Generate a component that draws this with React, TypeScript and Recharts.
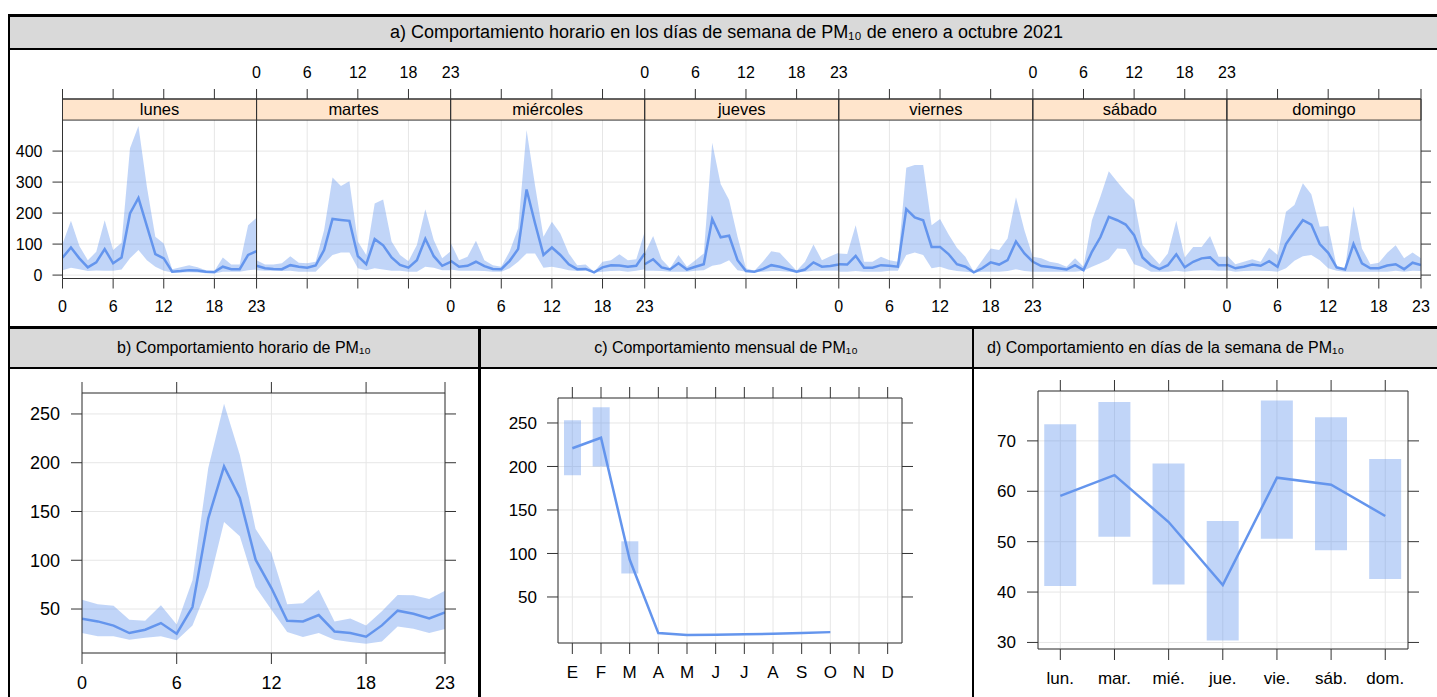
import React from "react";
import {
  ComposedChart,
  Line,
  Area,
  Bar,
  XAxis,
  YAxis,
  CartesianGrid,
  ReferenceArea,
  ReferenceLine,
} from "recharts";

const FONT = '"Liberation Sans", Arial, Helvetica, sans-serif';
const LINE = "#6495ED";
const GRID = "#e6e6e6";
const FRAME = "#333333";
const STRIP = "#ffe5cc";
const HEADER = "#d9d9d9";

const hours = [0, 1, 2, 3, 4, 5, 6, 7, 8, 9, 10, 11, 12, 13, 14, 15, 16, 17, 18, 19, 20, 21, 22, 23];
const days = ["lunes", "martes", "miércoles", "jueves", "viernes", "sábado", "domingo"];

// a) hourly profile per weekday
const lunesMean = [56, 89, 54, 25, 41, 84, 38, 57, 199, 249, 158, 68, 54, 11, 13, 16, 15, 11, 10, 27, 19, 19, 65, 77];
const lunesHigh = [100, 175, 94, 48, 75, 177, 81, 104, 409, 481, 285, 124, 102, 19, 25, 32, 25, 16, 13, 57, 34, 34, 161, 185];
const lunesLow = [16, 24, 19, 13, 15, 14, 14, 18, 54, 81, 48, 27, 14, 8, 8, 9, 8, 6, 5, 11, 11, 11, 16, 18];

const martesMean = [30, 22, 20, 19, 32, 27, 24, 31, 81, 181, 178, 175, 61, 35, 116, 96, 57, 33, 24, 48, 117, 61, 30, 43];
const martesHigh = [48, 34, 34, 38, 61, 40, 38, 43, 145, 315, 287, 303, 108, 65, 231, 244, 108, 65, 45, 97, 212, 113, 54, 77];
const martesLow = [16, 14, 14, 13, 14, 11, 11, 11, 38, 65, 73, 73, 22, 16, 22, 18, 14, 14, 11, 11, 27, 24, 16, 16];

const miercolesMean = [46, 27, 30, 43, 29, 20, 19, 46, 84, 276, 167, 65, 89, 65, 35, 19, 20, 9, 25, 32, 31, 27, 30, 70];
const miercolesHigh = [104, 48, 59, 111, 48, 32, 27, 77, 151, 468, 290, 124, 172, 134, 70, 32, 34, 11, 43, 48, 67, 48, 51, 140];
const miercolesLow = [18, 14, 14, 14, 13, 11, 11, 22, 43, 70, 70, 24, 27, 22, 16, 13, 14, 8, 11, 13, 14, 11, 14, 19];

const juevesMean = [35, 51, 25, 18, 38, 18, 27, 35, 181, 122, 127, 48, 13, 11, 19, 32, 27, 19, 11, 18, 41, 27, 29, 34];
const juevesHigh = [70, 126, 51, 22, 65, 27, 48, 70, 427, 294, 242, 124, 22, 14, 43, 77, 72, 43, 14, 43, 99, 48, 61, 72];
const juevesLow = [14, 14, 13, 11, 11, 11, 14, 16, 30, 35, 48, 16, 11, 9, 11, 13, 13, 11, 8, 11, 14, 14, 14, 14];

const viernesMean = [35, 34, 62, 24, 24, 32, 30, 27, 213, 186, 177, 91, 91, 68, 35, 27, 9, 22, 41, 34, 48, 108, 70, 43];
const viernesHigh = [70, 68, 161, 43, 43, 59, 48, 43, 346, 355, 355, 161, 181, 132, 88, 59, 11, 48, 86, 81, 118, 251, 145, 59];
const viernesLow = [11, 11, 13, 11, 11, 11, 14, 14, 65, 73, 65, 22, 27, 18, 13, 11, 8, 11, 11, 11, 13, 19, 13, 11];

const sabadoMean = [43, 29, 26, 22, 18, 32, 16, 75, 122, 188, 177, 163, 129, 57, 32, 19, 32, 67, 25, 43, 54, 57, 32, 32];
const sabadoHigh = [59, 54, 43, 38, 27, 54, 27, 177, 253, 335, 301, 269, 242, 97, 65, 35, 70, 175, 57, 91, 91, 126, 59, 59];
const sabadoLow = [11, 11, 11, 11, 11, 11, 14, 27, 38, 51, 86, 84, 35, 25, 11, 11, 11, 14, 11, 14, 16, 16, 14, 14];

const domingoMean = [34, 22, 27, 34, 30, 45, 27, 100, 140, 177, 163, 100, 72, 25, 18, 100, 38, 22, 22, 31, 35, 19, 40, 32];
const domingoHigh = [64, 35, 43, 51, 43, 88, 65, 204, 226, 296, 261, 156, 158, 29, 22, 222, 86, 35, 40, 72, 96, 54, 73, 54];
const domingoLow = [16, 11, 13, 14, 14, 13, 11, 22, 46, 61, 65, 48, 22, 14, 11, 11, 11, 11, 11, 11, 14, 11, 14, 13];

// b) hourly profile
const hourMean = [40.1, 37.3, 33, 25.4, 28.8, 35.6, 24.7, 52, 143, 196.3, 163.8, 100.6, 71.5, 38, 37.3, 43.8, 27, 25.4, 21.6, 33.2, 48.3, 45.2, 40.4, 46.6];
const hourHigh = [59.6, 55, 53.4, 39, 38, 53.8, 34, 79.4, 194.6, 260.6, 208, 132, 107.4, 55, 56, 69.8, 37.3, 40.4, 33, 47.6, 64.4, 64, 60.3, 68.8];
const hourLow = [25.4, 22, 22, 18.5, 20.6, 22, 17.9, 33.2, 73.2, 139.2, 124.5, 72.6, 49.3, 26.4, 21.3, 25.4, 18.5, 16.2, 14.4, 16.8, 32.2, 29.8, 25.4, 29.5];

// c) monthly profile (enero..octubre)
const monthLetters = ["E", "F", "M", "A", "M", "J", "J", "A", "S", "O", "N", "D"];
const monthMean = [221, 233, 93, 8.5, 6.3, 6.6, 7.1, 7.6, 8.5, 9.6];
const monthHigh = [253, 268, 114];
const monthLow = [190, 200, 77];

// d) weekday profile
const dayShort = ["lun.", "mar.", "mié.", "jue.", "vie.", "sáb.", "dom."];
const dayMean = [59.1, 63.2, 53.9, 41.4, 62.7, 61.3, 55.1];
const dayHigh = [73.3, 77.7, 65.5, 54.1, 78, 74.7, 66.4];
const dayLow = [41.2, 51, 41.5, 30.4, 50.6, 48.3, 42.6];

const SPAN = 23;
const weekMean = [lunesMean, martesMean, miercolesMean, juevesMean, viernesMean, sabadoMean, domingoMean];
const weekHigh = [lunesHigh, martesHigh, miercolesHigh, juevesHigh, viernesHigh, sabadoHigh, domingoHigh];
const weekLow = [lunesLow, martesLow, miercolesLow, juevesLow, viernesLow, sabadoLow, domingoLow];

// every day panel runs 0..23 and shares its edge with the next one
const weekRows = days.flatMap((_, k) =>
  hours.map((h, i) => ({
    x: k * SPAN + h,
    [`m${k}`]: weekMean[k][i],
    [`b${k}`]: [weekLow[k][i], weekHigh[k][i]],
  }))
);
const weekEnd = days.length * SPAN;
const weekTicks = days.flatMap((_, k) => [0, 6, 12, 18].map((h) => k * SPAN + h)).concat([weekEnd]);

// bottom axis labels the even panels, top axis the odd ones
const weekLabel = (parity: number) => (v: number) => {
  for (let k = parity; k < days.length; k += 2) {
    if (v >= k * SPAN && v <= k * SPAN + SPAN) return String(v - k * SPAN);
  }
  return "";
};

const hourRows = hours.map((h, i) => ({ h, mean: hourMean[i], band: [hourLow[i], hourHigh[i]] }));
const monthRows = monthLetters.map((_, i) => ({
  mo: i + 1,
  mean: monthMean[i] ?? null,
  band: monthLow[i] != null ? [monthLow[i], monthHigh[i]] : null,
}));
const dayRows = dayShort.map((_, i) => ({ d: i + 1, mean: dayMean[i], band: [dayLow[i], dayHigh[i]] }));

const noLabel = () => <g />;
const axisStyle = { stroke: FRAME };

function Box({ x, y, w, h, bg }: { x: number; y: number; w: number; h: number; bg: string }) {
  return <div style={{ position: "absolute", left: x, top: y, width: w, height: h, background: bg }} />;
}

function Header({ x, y, w, h, children, align = "center" }: any) {
  return (
    <div
      style={{
        position: "absolute",
        left: x,
        top: y,
        width: w,
        height: h,
        display: "flex",
        alignItems: "center",
        justifyContent: align,
        whiteSpace: "nowrap",
      }}
    >
      {children}
    </div>
  );
}

function WeekPanel() {
  const tick = { fontSize: 16, fill: "#000" };
  return (
    <div style={{ position: "absolute", left: 0, top: 50 }}>
      <ComposedChart width={1437} height={275} data={weekRows} margin={{ top: 0, right: 0, bottom: 0, left: 0 }}>
        <CartesianGrid stroke={GRID} />
        <XAxis
          dataKey="x"
          type="number"
          domain={[0, weekEnd]}
          allowDataOverflow
          ticks={weekTicks}
          interval={0}
          height={46.5}
          tickSize={10}
          tickMargin={12}
          tick={tick}
          tickFormatter={weekLabel(0)}
          axisLine={axisStyle}
          tickLine={axisStyle}
        />
        <XAxis
          xAxisId="T"
          orientation="top"
          dataKey="x"
          type="number"
          domain={[0, weekEnd]}
          allowDataOverflow
          ticks={weekTicks}
          interval={0}
          height={49}
          tickSize={10}
          tickMargin={11}
          tick={tick}
          tickFormatter={weekLabel(1)}
          axisLine={axisStyle}
          tickLine={axisStyle}
        />
        <YAxis
          type="number"
          domain={[-11, 568]}
          allowDataOverflow
          ticks={[0, 100, 200, 300, 400]}
          interval={0}
          width={62.5}
          tickSize={10}
          tickMargin={10}
          tick={tick}
          axisLine={axisStyle}
          tickLine={axisStyle}
        />
        <YAxis
          yAxisId="R"
          orientation="right"
          type="number"
          domain={[-11, 568]}
          allowDataOverflow
          ticks={[0, 100, 200, 300, 400]}
          interval={0}
          width={16}
          tickSize={10}
          tick={noLabel}
          axisLine={axisStyle}
          tickLine={axisStyle}
        />
        {days.map((d, k) => (
          <ReferenceArea
            key={`s${k}`}
            x1={k * SPAN}
            x2={k * SPAN + SPAN}
            y1={500}
            y2={568}
            fill={STRIP}
            fillOpacity={1}
            stroke={FRAME}
            strokeWidth={1}
            label={{ value: d, position: "center", fontSize: 16.5, fill: "#000" }}
          />
        ))}
        {days.map((_, k) => (
          <Area
            key={`a${k}`}
            dataKey={`b${k}`}
            stroke="none"
            fill={LINE}
            fillOpacity={0.4}
            isAnimationActive={false}
            activeDot={false}
          />
        ))}
        {days.map((_, k) => (
          <Line
            key={`l${k}`}
            dataKey={`m${k}`}
            stroke={LINE}
            strokeWidth={2.5}
            dot={false}
            activeDot={false}
            isAnimationActive={false}
          />
        ))}
        {[1, 2, 3, 4, 5, 6].map((k) => (
          <ReferenceLine key={`r${k}`} x={k * SPAN} stroke={FRAME} strokeWidth={1} />
        ))}
      </ComposedChart>
    </div>
  );
}

function HourPanel() {
  const tick = { fontSize: 18, fill: "#000" };
  const xt = [0, 6, 12, 18, 23];
  const yt = [50, 100, 150, 200, 250];
  return (
    <div style={{ position: "absolute", left: 8, top: 373.3 }}>
      <ComposedChart width={457} height={324} data={hourRows} margin={{ top: 0, right: 0, bottom: 0, left: 0 }}>
        <CartesianGrid stroke={GRID} />
        <XAxis dataKey="h" type="number" domain={[0, 23]} allowDataOverflow ticks={xt} interval={0} height={44} tickSize={11} tickMargin={12} tick={tick} axisLine={axisStyle} tickLine={axisStyle} />
        <XAxis xAxisId="T" orientation="top" dataKey="h" type="number" domain={[0, 23]} allowDataOverflow ticks={xt} interval={0} height={20} tickSize={11} tick={noLabel} axisLine={axisStyle} tickLine={axisStyle} />
        <YAxis type="number" domain={[4.9, 271.5]} allowDataOverflow ticks={yt} interval={0} width={74} tickSize={11} tickMargin={11} tick={tick} axisLine={axisStyle} tickLine={axisStyle} />
        <YAxis yAxisId="R" orientation="right" type="number" domain={[4.9, 271.5]} allowDataOverflow ticks={yt} interval={0} width={20} tickSize={11} tick={noLabel} axisLine={axisStyle} tickLine={axisStyle} />
        <Area dataKey="band" stroke="none" fill={LINE} fillOpacity={0.4} isAnimationActive={false} activeDot={false} />
        <Line dataKey="mean" stroke={LINE} strokeWidth={2.5} dot={false} activeDot={false} isAnimationActive={false} />
      </ComposedChart>
    </div>
  );
}

function MonthPanel() {
  const tick = { fontSize: 17, fill: "#000" };
  const xt = monthLetters.map((_, i) => i + 1);
  const yt = [50, 100, 150, 200, 250];
  return (
    <div style={{ position: "absolute", left: 488.3, top: 378.3 }}>
      <ComposedChart width={434} height={305} data={monthRows} margin={{ top: 0, right: 0, bottom: 0, left: 0 }}>
        <CartesianGrid stroke={GRID} />
        <XAxis dataKey="mo" type="number" domain={[0.5, 12.5]} allowDataOverflow ticks={xt} interval={0} height={40} tickSize={11} tickMargin={12} tick={tick} tickFormatter={(v: number) => monthLetters[v - 1]} axisLine={axisStyle} tickLine={axisStyle} />
        <XAxis xAxisId="T" orientation="top" dataKey="mo" type="number" domain={[0.5, 12.5]} allowDataOverflow ticks={xt} interval={0} height={20} tickSize={11} tick={noLabel} axisLine={axisStyle} tickLine={axisStyle} />
        <YAxis type="number" domain={[-2.9, 278.7]} allowDataOverflow ticks={yt} interval={0} width={70} tickSize={11} tickMargin={10} tick={tick} axisLine={axisStyle} tickLine={axisStyle} />
        <YAxis yAxisId="R" orientation="right" type="number" domain={[-2.9, 278.7]} allowDataOverflow ticks={yt} interval={0} width={20} tickSize={11} tick={noLabel} axisLine={axisStyle} tickLine={axisStyle} />
        <Bar dataKey="band" barSize={17} fill={LINE} fillOpacity={0.4} isAnimationActive={false} />
        <Line dataKey="mean" stroke={LINE} strokeWidth={2.5} dot={false} activeDot={false} isAnimationActive={false} />
      </ComposedChart>
    </div>
  );
}

function DayPanel() {
  const tick = { fontSize: 17, fill: "#000" };
  const xt = dayShort.map((_, i) => i + 1);
  const yt = [30, 40, 50, 60, 70];
  return (
    <div style={{ position: "absolute", left: 967.7, top: 371 }}>
      <ComposedChart width={460} height={318} data={dayRows} margin={{ top: 0, right: 0, bottom: 0, left: 0 }}>
        <CartesianGrid stroke={GRID} />
        <XAxis dataKey="d" type="number" domain={[0.588, 7.42]} allowDataOverflow ticks={xt} interval={0} height={40} tickSize={11} tickMargin={12} tick={tick} tickFormatter={(v: number) => dayShort[v - 1]} axisLine={axisStyle} tickLine={axisStyle} />
        <XAxis xAxisId="T" orientation="top" dataKey="d" type="number" domain={[0.588, 7.42]} allowDataOverflow ticks={xt} interval={0} height={20} tickSize={11} tick={noLabel} axisLine={axisStyle} tickLine={axisStyle} />
        <YAxis type="number" domain={[28.7, 79.9]} allowDataOverflow ticks={yt} interval={0} width={70} tickSize={11} tickMargin={11} tick={tick} axisLine={axisStyle} tickLine={axisStyle} />
        <YAxis yAxisId="R" orientation="right" type="number" domain={[28.7, 79.9]} allowDataOverflow ticks={yt} interval={0} width={20} tickSize={11} tick={noLabel} axisLine={axisStyle} tickLine={axisStyle} />
        <Bar dataKey="band" barSize={32} fill={LINE} fillOpacity={0.4} isAnimationActive={false} />
        <Line dataKey="mean" stroke={LINE} strokeWidth={2.5} dot={false} activeDot={false} isAnimationActive={false} />
      </ComposedChart>
    </div>
  );
}

export default function App() {
  return (
    <div
      style={{
        position: "absolute",
        left: 0,
        top: 0,
        width: 1437,
        height: 697,
        overflow: "hidden",
        background: "#fff",
        fontFamily: FONT,
        color: "#000",
      }}
    >
      {/* header fills */}
      <Box x={8} y={16} w={1440} h={32} bg={HEADER} />
      <Box x={8} y={328} w={1440} h={39} bg={HEADER} />

      <WeekPanel />
      <HourPanel />
      <MonthPanel />
      <DayPanel />

      {/* table borders */}
      <Box x={8} y={14} w={1440} h={2.5} bg="#000" />
      <Box x={8} y={47.5} w={1440} h={2.5} bg="#000" />
      <Box x={8} y={326} w={1440} h={2.5} bg="#000" />
      <Box x={8} y={366.5} w={1440} h={2.5} bg="#000" />
      <Box x={7.5} y={14} w={2.5} h={700} bg="#000" />
      <Box x={478} y={326} w={2.5} h={380} bg="#000" />
      <Box x={971.5} y={326} w={2.5} h={380} bg="#000" />

      <Header x={8} y={16} w={1437} h={32}>
        <span style={{ fontSize: 18 }}>a) Comportamiento horario en los días de semana de PM₁₀ de enero a octubre 2021</span>
      </Header>
      <Header x={10} y={328.5} w={468} h={38}>
        <span style={{ fontSize: 16 }}>b) Comportamiento horario de PM₁₀</span>
      </Header>
      <Header x={480.5} y={328.5} w={491} h={38}>
        <span style={{ fontSize: 16 }}>c) Comportamiento mensual de PM₁₀</span>
      </Header>
      <Header x={987} y={328.5} w={440} h={38} align="flex-start">
        <span style={{ fontSize: 16 }}>d) Comportamiento en días de la semana de PM₁₀</span>
      </Header>
    </div>
  );
}
